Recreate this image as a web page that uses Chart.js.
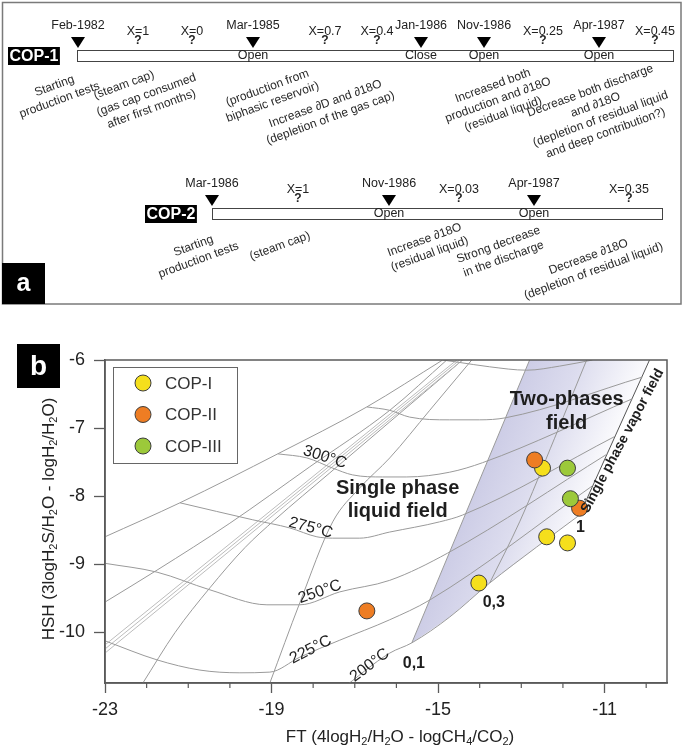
<!DOCTYPE html>
<html>
<head>
<meta charset="utf-8">
<title>COP wells - FT/HSH diagram</title>
<script src="https://cdn.jsdelivr.net/npm/chart.js@4.4.1/dist/chart.umd.min.js"></script>
<style>
  html, body { margin: 0; padding: 0; background: #fff; }
  #fig { display: block; }
</style>
</head>
<body>
<canvas id="fig" width="685" height="753"></canvas>
<script>
const FONT = '"Liberation Sans", Arial, Helvetica, sans-serif';

// ---------- panel a : well history ----------
const cop1Events = ['Feb-1982', 'Mar-1985', 'Jan-1986', 'Nov-1986', 'Apr-1987'];
const cop1States = ['', 'Open', 'Close', 'Open', 'Open'];
const cop1Fractions = ['X=1', 'X=0', 'X=0.7', 'X=0.4', 'X=0.25', 'X=0.45'];
const cop1Notes = [
  ['Starting', 'production tests'],
  ['(steam cap)'],
  ['(gas cap consumed', 'after first months)'],
  ['(production from', 'biphasic reservoir)'],
  ['Increase ∂D and ∂18O', '(depletion of the gas cap)'],
  ['Increased both', 'production and ∂18O', '(residual liquid)'],
  ['Decrease both discharge', 'and ∂18O', '(depletion of residual liquid', 'and deep contribution?)']
];
const cop2Events = ['Mar-1986', 'Nov-1986', 'Apr-1987'];
const cop2States = ['', 'Open', 'Open'];
const cop2Fractions = ['X=1', 'X=0.03', 'X=0.35'];
const cop2Notes = [
  ['Starting', 'production tests'],
  ['(steam cap)'],
  ['Increase ∂18O', '(residual liquid)'],
  ['Strong decrease', 'in the discharge'],
  ['Decrease ∂18O', '(depletion of residual liquid)']
];

// where things sit on the timeline strip (pixels)
const cop1EventX = [78, 253, 421, 484, 599];
const cop1FracX = [138, 192, 325, 377, 543, 655];
const cop1NoteXY = [[57, 93], [124, 85], [149, 102], [270, 95], [328, 111], [498, 100], [598, 112]];
const cop2EventX = [212, 389, 534];
const cop2FracX = [298, 459, 629];
const cop2NoteXY = [[196, 253], [280, 246], [427, 247], [501, 252], [591, 264]];

// ---------- panel b : FT vs HSH ----------
const xTicks = [-23, -19, -15, -11];
const xMinor = [-22, -21, -20, -18, -17, -16, -14, -13, -12, -10];
const yTicks = [-6, -7, -8, -9, -10];

const copIx = [-12.49, -12.39, -11.89, -14.02];
const copIy = [-7.59, -8.60, -8.69, -9.28];
const copIIx = [-12.68, -11.60, -16.71];
const copIIy = [-7.47, -8.18, -9.69];
const copIIIx = [-11.89, -11.82];
const copIIIy = [-7.59, -8.04];

// isotherms (liquid part + straight two-phase part)
const iso200 = [[-17.36, -10.86], [-16.16, -10.31], [-15.63, -10.16], [-14.72, -9.78], [-13.76, -9.28], [-12.63, -8.75], [-11.60, -8.28]];
const iso225 = [[-23, -10.13], [-21.75, -10.41], [-20.72, -10.56], [-19.76, -10.60], [-19.04, -10.59], [-18.32, -10.37], [-17.36, -10.12], [-16.16, -9.82], [-15.20, -9.53], [-11.29, -7.85]];
const iso250 = [[-23, -8.99], [-21.75, -9.12], [-20.48, -9.38], [-19.11, -9.60], [-18.32, -9.60], [-17.36, -9.41], [-16.16, -9.24], [-14.77, -8.84], [-10.93, -7.38]];
const iso275 = [[-21.20, -8.10], [-19.45, -8.35], [-18.56, -8.47], [-17.91, -8.60], [-17.53, -8.62], [-16.88, -8.62], [-16.16, -8.53], [-14.96, -8.38], [-14.41, -8.28], [-10.74, -7.12]];
const iso300 = [[-18.85, -7.38], [-18.15, -7.44], [-17.53, -7.59], [-17.05, -7.69], [-16.33, -7.72], [-15.75, -7.72], [-14.72, -7.65], [-13.93, -7.51], [-10.33, -6.57]];
const iso325 = [[-16.71, -6.69], [-16.16, -6.74], [-15.68, -6.84], [-14.72, -6.88], [-14.00, -6.88], [-13.38, -6.85], [-10.09, -6.25]];
const iso350 = [[-14.89, -6.00], [-14.55, -6.03], [-13.76, -6.10], [-12.87, -6.15], [-12.08, -6.09], [-11.29, -6.00]];

// the fan of lines converging to the top of the liquid field
const envelope = [[-23, -8.60], [-21.20, -8.10], [-18.85, -7.38], [-16.71, -6.69], [-14.89, -6.00]];
const fanB = [[-23, -9.56], [-21.75, -9.09], [-20.00, -8.40], [-18.08, -7.57], [-16.16, -6.74], [-14.79, -6.00]];
const fanC1 = [[-23, -10.19], [-14.55, -6.00]];
const fanC2 = [[-23, -10.25], [-14.48, -6.00]];
const fanC3 = [[-23, -10.31], [-14.41, -6.00]];
const fanD = [[-22.09, -10.75], [-21.32, -10.01], [-20.48, -9.35], [-19.64, -8.76], [-18.92, -8.35], [-17.60, -7.66], [-16.16, -6.91], [-14.41, -6.00]];
const fanE = [[-19.04, -10.75], [-18.32, -9.57], [-17.53, -8.38], [-16.88, -7.88], [-16.16, -7.44], [-15.20, -6.74], [-14.19, -6.00]];

// vapour fraction lines of the two-phase field
const vap01 = [[-15.63, -10.16], [-12.80, -6.00]];
const vap03 = [[-13.76, -9.28], [-13.04, -8.38], [-12.20, -7.15], [-11.43, -6.00]];
const vap1 = [[-11.60, -8.28], [-9.92, -6.00]];
const twoPhaseArea = [[-15.63, -10.16], [-12.80, -6.00], [-9.92, -6.00], [-11.60, -8.28], [-12.63, -8.75], [-13.76, -9.28], [-14.72, -9.78]];

const fieldLabels = [
  { lines: ['300°C'], at: [-17.72, -7.43], angle: 18, font: '16px ' + FONT },
  { lines: ['275°C'], at: [-18.06, -8.47], angle: 15, font: '16px ' + FONT },
  { lines: ['250°C'], at: [-17.84, -9.41], angle: -19, font: '16px ' + FONT },
  { lines: ['225°C'], at: [-18.06, -10.26], angle: -27, font: '16px ' + FONT },
  { lines: ['200°C'], at: [-16.64, -10.49], angle: -37, font: '16px ' + FONT },
  { lines: ['Single phase', 'liquid field'], at: [-15.97, -8.06], angle: 0, font: 'bold 20px ' + FONT, lh: 23 },
  { lines: ['Two-phases', 'field'], at: [-11.91, -6.76], angle: 0, font: 'bold 20px ' + FONT, lh: 24 },
  { lines: ['Single phase vapor field'], at: [-10.57, -7.19], angle: -62, font: 'bold 14px ' + FONT },
  { lines: ['0,1'], at: [-15.58, -10.46], angle: 0, font: 'bold 16px ' + FONT },
  { lines: ['0,3'], at: [-13.66, -9.57], angle: 0, font: 'bold 16px ' + FONT },
  { lines: ['1'], at: [-11.58, -8.46], angle: 0, font: 'bold 16px ' + FONT }
];

const xTitle = [['FT (4logH', 0], ['2', 1], ['/H', 0], ['2', 1], ['O - logCH', 0], ['4', 1], ['/CO', 0], ['2', 1], [')', 0]];
const yTitle = [['HSH (3logH', 0], ['2', 1], ['S/H', 0], ['2', 1], ['O - logH', 0], ['2', 1], ['/H', 0], ['2', 1], ['O)', 0]];

// ---------- helpers ----------
function pts(xs, ys) { return xs.map((v, i) => ({ x: v, y: ys[i] })); }

function gridLine(p, color, smooth) {
  return {
    data: p.map(q => ({ x: q[0], y: q[1] })),
    showLine: true, pointRadius: 0, pointHoverRadius: 0,
    borderColor: color, borderWidth: 1, fill: false,
    cubicInterpolationMode: smooth ? 'monotone' : 'default', tension: 0,
    order: 10
  };
}

function markers(label, xs, ys, color, order) {
  return {
    label: label, data: pts(xs, ys), showLine: false,
    pointRadius: 8, pointHoverRadius: 8,
    backgroundColor: color, borderColor: '#3d3d3d', borderWidth: 1, order: order
  };
}

function textBlock(ctx, lines, cx, cy, angle, font, lh) {
  ctx.save();
  ctx.translate(cx, cy);
  ctx.rotate(angle * Math.PI / 180);
  ctx.font = font;
  ctx.textAlign = 'center';
  ctx.textBaseline = 'middle';
  const n = lines.length;
  lines.forEach((l, i) => ctx.fillText(l, 0, (i - (n - 1) / 2) * lh));
  ctx.restore();
}

function richText(ctx, parts, cx, cy, size) {
  const big = size + 'px ' + FONT, small = Math.round(size * 0.64) + 'px ' + FONT;
  let w = 0;
  parts.forEach(p => { ctx.font = p[1] ? small : big; w += ctx.measureText(p[0]).width; });
  let x = cx - w / 2;
  ctx.textAlign = 'left';
  ctx.textBaseline = 'middle';
  parts.forEach(p => {
    ctx.font = p[1] ? small : big;
    ctx.fillText(p[0], x, cy + (p[1] ? size * 0.3 : 0));
    x += ctx.measureText(p[0]).width;
  });
}

function drawRow(ctx, name, boxX, barTop, barX0, barX1, events, eventX, states, fracs, fracX, notes, noteXY) {
  // well tag
  ctx.font = 'bold 16px ' + FONT;
  const tw = ctx.measureText(name).width;
  ctx.fillStyle = '#000';
  ctx.fillRect(boxX, barTop - 3, tw + 3, 18);
  ctx.fillStyle = '#fff';
  ctx.textAlign = 'left';
  ctx.textBaseline = 'middle';
  ctx.fillText(name, boxX + 1.5, barTop + 6.5);

  // bar
  ctx.fillStyle = '#fff';
  ctx.fillRect(barX0, barTop, barX1 - barX0, 11);
  ctx.strokeStyle = '#444';
  ctx.lineWidth = 1;
  ctx.strokeRect(barX0 + 0.5, barTop + 0.5, barX1 - barX0, 11);

  events.forEach((e, i) => {
    const x = eventX[i];
    ctx.beginPath();
    ctx.moveTo(x - 7, barTop - 13);
    ctx.lineTo(x + 7, barTop - 13);
    ctx.lineTo(x, barTop - 2);
    ctx.closePath();
    ctx.fillStyle = '#000';
    ctx.fill();
    ctx.fillStyle = '#222';
    ctx.font = '12.5px ' + FONT;
    ctx.textAlign = 'center';
    ctx.textBaseline = 'middle';
    ctx.fillText(e, x, barTop - 24);
    if (states[i]) ctx.fillText(states[i], x, barTop + 6);
  });

  ctx.fillStyle = '#222';
  fracs.forEach((f, i) => {
    ctx.font = '12.5px ' + FONT;
    ctx.textAlign = 'center';
    ctx.textBaseline = 'middle';
    ctx.fillText(f, fracX[i], barTop - 18);
    ctx.font = 'bold 12px ' + FONT;
    ctx.fillText('?', fracX[i], barTop - 9);
  });

  ctx.fillStyle = '#2a2a2a';
  notes.forEach((n, i) => textBlock(ctx, n, noteXY[i][0], noteXY[i][1], -20, '12px ' + FONT, 15));
}

// ---------- plugins ----------
const diagramPlugin = {
  id: 'diagram',
  beforeDatasetsDraw(chart) {
    const { ctx, chartArea: a, scales: { x, y } } = chart;
    const px = p => [x.getPixelForValue(p[0]), y.getPixelForValue(p[1])];
    ctx.save();
    ctx.beginPath();
    ctx.rect(a.left, a.top, a.width, a.height);
    ctx.clip();
    ctx.beginPath();
    twoPhaseArea.forEach((p, i) => { const q = px(p); i ? ctx.lineTo(q[0], q[1]) : ctx.moveTo(q[0], q[1]); });
    ctx.closePath();
    // gradient running across the field, from the 0,1 line to the vapour line
    const A = px(vap01[0]), B = px(vap01[1]), C = px(vap1[0]);
    let nx = B[1] - A[1], ny = A[0] - B[0];
    const len = Math.hypot(nx, ny);
    nx = nx / len; ny = ny / len;
    if (nx < 0) { nx = -nx; ny = -ny; }
    const s = [(A[0] + B[0]) / 2, (A[1] + B[1]) / 2];
    const t = (C[0] - s[0]) * nx + (C[1] - s[1]) * ny;
    const g = ctx.createLinearGradient(s[0], s[1], s[0] + t * nx, s[1] + t * ny);
    g.addColorStop(0, '#cdcde6');
    g.addColorStop(0.45, '#dcdcee');
    g.addColorStop(1, '#f9f9fc');
    ctx.fillStyle = g;
    ctx.fill();
    ctx.restore();
  },
  afterDatasetsDraw(chart) {
    const { ctx, chartArea: a, scales: { x, y } } = chart;
    ctx.save();
    ctx.fillStyle = '#1e1e1e';
    fieldLabels.forEach(l => {
      textBlock(ctx, l.lines, x.getPixelForValue(l.at[0]), y.getPixelForValue(l.at[1]), l.angle, l.font, l.lh || 18);
    });

    // legend inside the plot
    const lx = a.left + 8, ly = a.top + 7;
    ctx.fillStyle = '#fff';
    ctx.fillRect(lx, ly, 124, 96);
    ctx.strokeStyle = '#666';
    ctx.lineWidth = 1;
    ctx.strokeRect(lx + 0.5, ly + 0.5, 124, 96);
    chart.data.datasets.filter(d => d.label).forEach((d, i) => {
      const cy = ly + 16 + i * 31.5;
      ctx.beginPath();
      ctx.arc(lx + 30, cy, 8, 0, Math.PI * 2);
      ctx.fillStyle = d.backgroundColor;
      ctx.fill();
      ctx.strokeStyle = '#3d3d3d';
      ctx.stroke();
      ctx.fillStyle = '#333';
      ctx.font = '17px ' + FONT;
      ctx.textAlign = 'left';
      ctx.textBaseline = 'middle';
      ctx.fillText(d.label, lx + 52, cy + 1);
    });

    // frame and minor ticks
    ctx.strokeStyle = '#5a5a5a';
    ctx.lineWidth = 1.5;
    ctx.strokeRect(a.left, a.top, a.width, a.height);
    ctx.lineWidth = 1.2;
    xMinor.forEach(v => {
      const p = x.getPixelForValue(v);
      ctx.beginPath();
      ctx.moveTo(p, a.bottom);
      ctx.lineTo(p, a.bottom + 5);
      ctx.stroke();
    });
    ctx.restore();
  },
  afterDraw(chart) {
    const { ctx } = chart;
    ctx.save();
    // axis titles with subscripts
    ctx.fillStyle = '#222';
    richText(ctx, xTitle, 400, 737, 17);
    ctx.translate(49, 519);
    ctx.rotate(-Math.PI / 2);
    richText(ctx, yTitle, 0, 0, 17);
    ctx.restore();

    ctx.save();
    // panel tag b
    ctx.fillStyle = '#000';
    ctx.fillRect(17, 344, 43, 44);
    ctx.fillStyle = '#fff';
    ctx.font = 'bold 28px ' + FONT;
    ctx.textAlign = 'center';
    ctx.textBaseline = 'middle';
    ctx.fillText('b', 38.5, 367);

    // panel a
    ctx.strokeStyle = '#7a7a7a';
    ctx.lineWidth = 1.5;
    ctx.strokeRect(2.5, 2.5, 678.5, 301.5);
    drawRow(ctx, 'COP-1', 8, 50, 77, 673, cop1Events, cop1EventX, cop1States, cop1Fractions, cop1FracX, cop1Notes, cop1NoteXY);
    drawRow(ctx, 'COP-2', 145, 208, 212, 662, cop2Events, cop2EventX, cop2States, cop2Fractions, cop2FracX, cop2Notes, cop2NoteXY);
    ctx.fillStyle = '#000';
    ctx.fillRect(2, 263, 43, 41);
    ctx.fillStyle = '#fff';
    ctx.font = 'bold 25px ' + FONT;
    ctx.textAlign = 'center';
    ctx.textBaseline = 'middle';
    ctx.fillText('a', 23.5, 284);
    ctx.restore();
  }
};

// ---------- chart ----------
const gridGray = '#9a9a9a';
const fanGray = '#bcbcbc';

new Chart(document.getElementById('fig'), {
  type: 'scatter',
  data: {
    datasets: [
      markers('COP-I', copIx, copIy, '#f5df1c', 3),
      markers('COP-II', copIIx, copIIy, '#ee7d23', 2),
      markers('COP-III', copIIIx, copIIIy, '#9cc93a', 1),
      gridLine(iso200, gridGray, true),
      gridLine(iso225, gridGray, true),
      gridLine(iso250, gridGray, true),
      gridLine(iso275, gridGray, true),
      gridLine(iso300, gridGray, true),
      gridLine(iso325, gridGray, true),
      gridLine(iso350, gridGray, true),
      gridLine(envelope, gridGray, true),
      gridLine(fanB, gridGray, true),
      gridLine(fanC1, fanGray, false),
      gridLine(fanC2, fanGray, false),
      gridLine(fanC3, fanGray, false),
      gridLine(fanD, gridGray, true),
      gridLine(fanE, gridGray, true),
      gridLine(vap01, gridGray, false),
      gridLine(vap03, gridGray, true),
      gridLine(vap1, '#555', false)
    ]
  },
  options: {
    responsive: false,
    animation: false,
    devicePixelRatio: 1,
    events: [],
    layout: { padding: { top: 360, right: 18, bottom: 0, left: 0 } },
    plugins: { legend: { display: false }, tooltip: { enabled: false } },
    scales: {
      x: {
        type: 'linear', min: -23, max: -9.5,
        afterBuildTicks: s => { s.ticks = xTicks.map(v => ({ value: v })); },
        afterFit: s => { s.height = 70; },
        ticks: { autoSkip: false, maxRotation: 0, padding: 6, color: '#222', font: { family: FONT, size: 18 }, callback: v => String(v) },
        grid: { drawOnChartArea: false, drawTicks: true, tickLength: 10, tickColor: '#5a5a5a', tickWidth: 1.3 },
        border: { color: '#5a5a5a', width: 1.5 }
      },
      y: {
        type: 'linear', min: -10.75, max: -6,
        afterBuildTicks: s => { s.ticks = yTicks.map(v => ({ value: v })); },
        afterFit: s => { s.width = 105; },
        ticks: { autoSkip: false, padding: 9, color: '#222', font: { family: FONT, size: 18 }, callback: v => String(v) },
        grid: { drawOnChartArea: false, drawTicks: true, tickLength: 11, tickColor: '#5a5a5a', tickWidth: 1.3 },
        border: { color: '#5a5a5a', width: 1.5 }
      }
    }
  },
  plugins: [diagramPlugin]
});
</script>
</body>
</html>
